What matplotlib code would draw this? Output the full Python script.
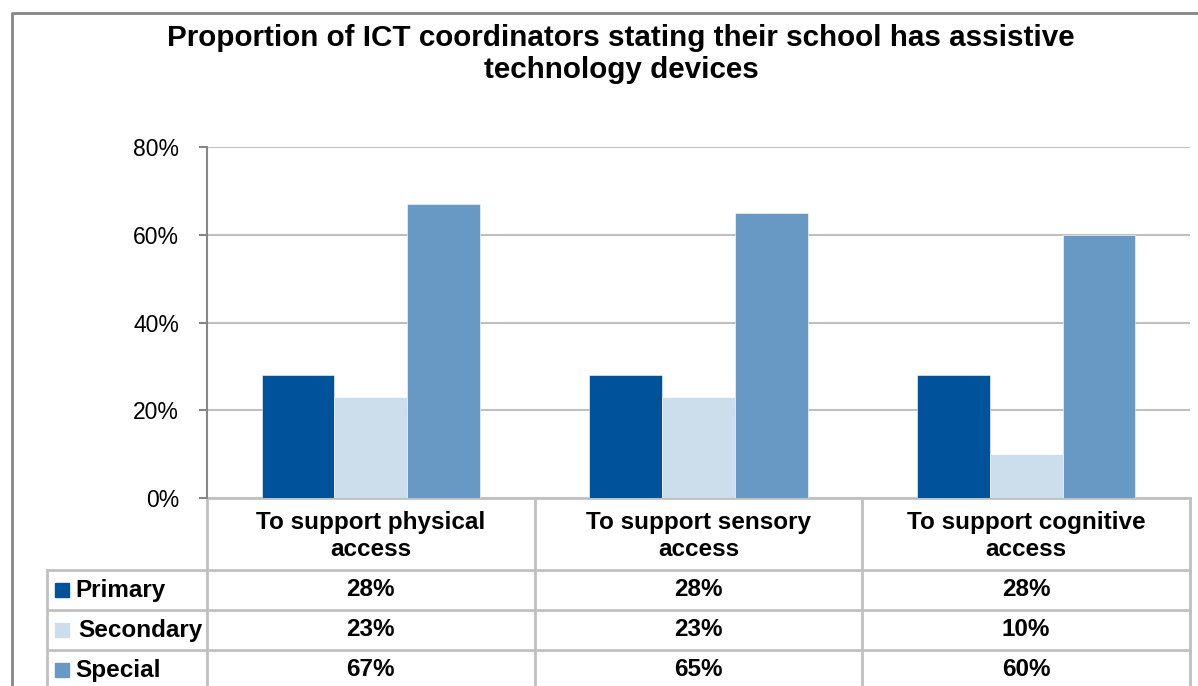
import matplotlib
matplotlib.use("Agg")
from matplotlib import pyplot as plt
from matplotlib.patches import Rectangle
import numpy as np

plt.rcParams['font.family'] = ['Liberation Sans', 'DejaVu Sans']

# 数据
categories = ['To support physical\naccess', 'To support sensory\naccess', 'To support cognitive\naccess']
series = ['Primary', 'Secondary', 'Special']
primary = [28, 28, 28]
secondary = [23, 23, 10]
special = [67, 65, 60]
colors = ['#00539B', '#CCDEEC', '#6899C5']
yticks = [0, 20, 40, 60, 80]

W, H = 1198, 686
fig = plt.figure(figsize=(W / 100, H / 100), dpi=100)

# 绘图区位置（像素）
left, right, top, bottom = 207, 1190, 147, 498
ax = fig.add_axes([left / W, (H - bottom) / H, (right - left) / W, (bottom - top) / H])

x = np.arange(len(categories))
bw = 2 / 9
for i, vals in enumerate([primary, secondary, special]):
    ax.bar(x + (i - 1) * bw, vals, bw, color=colors[i], edgecolor='white',
           linewidth=0.4, zorder=3)

ax.set_xlim(-0.5, len(categories) - 0.5)
ax.set_ylim(0, 80)
ax.set_yticks(yticks)
ax.set_yticklabels([f'{t}%' for t in yticks], fontsize=16.5)
ax.set_xticks([])
ax.yaxis.grid(True, color='#C0C0C0', linewidth=1.5, zorder=0)
for s in ['top', 'right', 'bottom']:
    ax.spines[s].set_visible(False)
ax.spines['left'].set_color('#868686')
ax.spines['left'].set_linewidth(1.5)
ax.tick_params(axis='y', length=6, width=1.5, color='#868686', pad=14)

# 外框、标题和数据表（像素坐标）
ov = fig.add_axes([0, 0, 1, 1], zorder=-1)
ov.set_xlim(0, W)
ov.set_ylim(H, 0)
ov.axis('off')
ov.plot([12, 12, W], [H, 13, 13], color='#868686', lw=2)

ov.text(621, 38, 'Proportion of ICT coordinators stating their school has assistive',
        ha='center', va='center', fontsize=21.3, fontweight='bold')
ov.text(621, 70, 'technology devices',
        ha='center', va='center', fontsize=21.3, fontweight='bold')

grid_c = '#C0C0C0'
col_w = (right - left) / len(categories)
row_top = [570, 610, 650]
row_h = 40
# 横线
ov.plot([left, right], [bottom, bottom], color=grid_c, lw=2, zorder=5)
for y in row_top:
    ov.plot([47, right], [y, y], color=grid_c, lw=2)
# 竖线
ov.plot([left, left], [bottom, H], color=grid_c, lw=2)
ov.plot([47, 47], [570, H], color=grid_c, lw=2)
for j in range(1, len(categories) + 1):
    xx = left + j * col_w
    ov.plot([xx, xx], [bottom, H], color=grid_c, lw=2)

for j, c in enumerate(categories):
    l1, l2 = c.split('\n')
    xc = left + (j + 0.5) * col_w
    ov.text(xc, 522, l1, ha='center', va='center', fontsize=17.5, fontweight='bold')
    ov.text(xc, 550, l2, ha='center', va='center', fontsize=17.5, fontweight='bold')

for i, (name, vals) in enumerate(zip(series, [primary, secondary, special])):
    yc = row_top[i] + row_h / 2
    ov.add_patch(Rectangle((55, yc - 7), 14, 14, color=colors[i]))
    ov.text(75 if i != 1 else 78, yc, name, ha='left', va='center',
            fontsize=17.5, fontweight='bold')
    for j, v in enumerate(vals):
        ov.text(left + (j + 0.5) * col_w, yc, f'{v}%', ha='center', va='center',
                fontsize=17.5, fontweight='bold')

fig.savefig('out.png', dpi=100)
